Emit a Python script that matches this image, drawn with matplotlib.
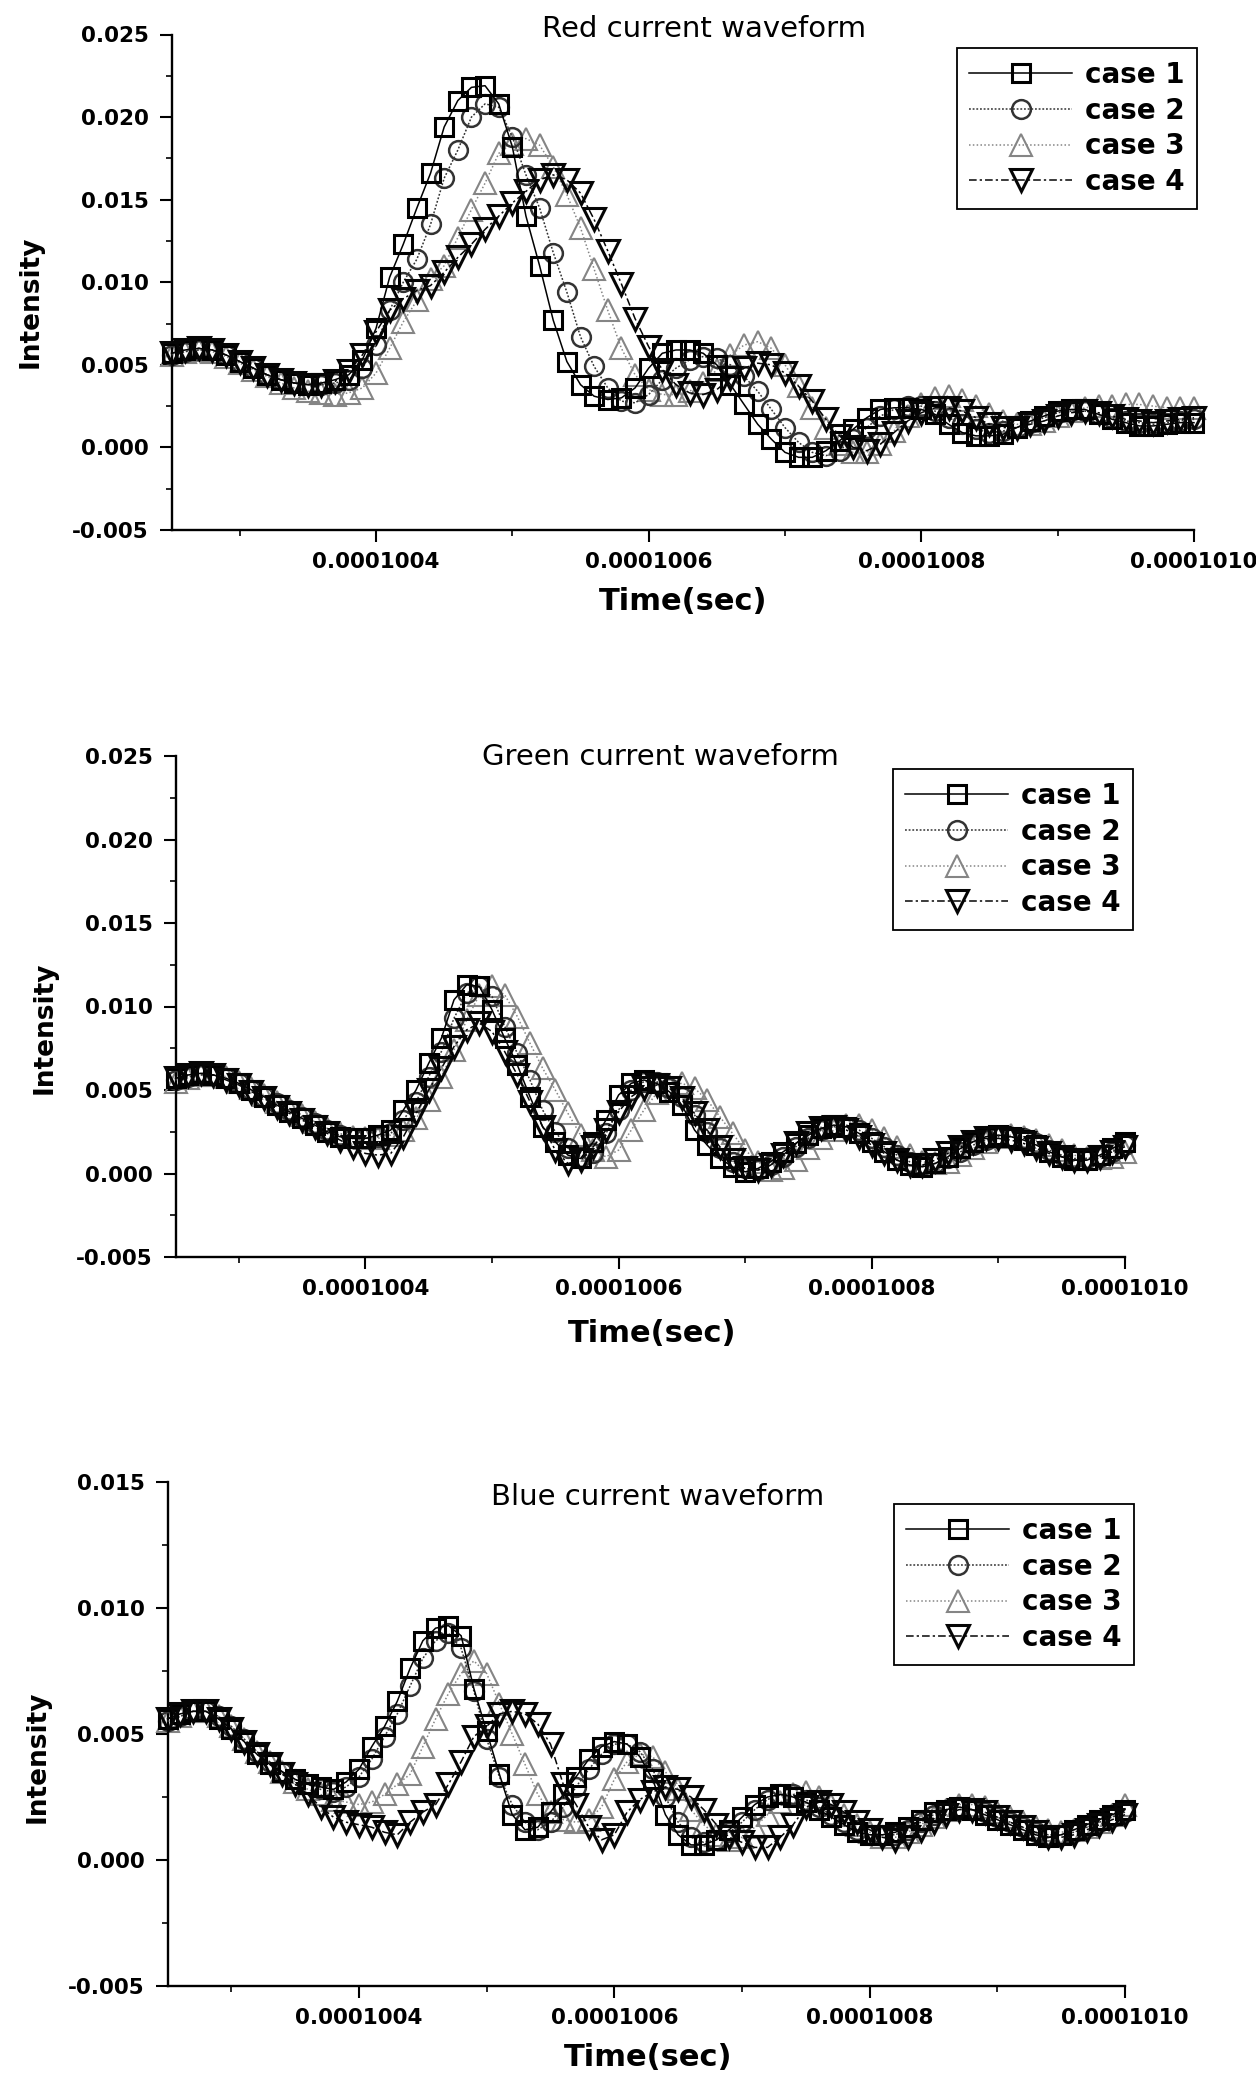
import numpy as np
import matplotlib
matplotlib.use("Agg")
import matplotlib.pyplot as plt
from matplotlib.ticker import MultipleLocator, FormatStrFormatter

plt.rcParams['font.family'] = ['DejaVu Sans']
plt.rcParams['axes.unicode_minus'] = False

# ---------------- data ----------------
# time grid: 100.25 us .. 101.00 us, sampled every 0.01 us
TIME_US = np.round(np.arange(100.25, 101.0001, 0.01), 2)
INTENSITY_SCALE = 1e-3   # values below are in units of 1e-3

CASES = ["case 1", "case 2", "case 3", "case 4"]

RED = {
    "case 1": [5.7, 5.9, 6.0, 5.9, 5.6, 5.2, 4.8, 4.4, 4.1, 3.9,
               3.8, 3.9, 4.1, 4.4, 5.3, 7.2, 10.3, 12.3, 14.5, 16.6,
               19.4, 21.0, 21.8, 21.9, 20.8, 18.2, 14.0, 11.0, 7.7, 5.2,
               3.8, 3.1, 2.9, 3.0, 3.6, 4.8, 5.7, 5.9, 5.9, 5.7,
               5.0, 3.8, 2.6, 1.4, 0.5, -0.3, -0.6, -0.6, -0.2, 0.4,
               1.1, 1.8, 2.3, 2.4, 2.4, 2.3, 2.0, 1.4, 0.9, 0.7,
               0.7, 0.8, 1.2, 1.6, 1.9, 2.2, 2.3, 2.3, 2.0, 1.7,
               1.5, 1.3, 1.3, 1.4, 1.5, 1.5],
    "case 2": [5.6, 5.8, 5.9, 5.9, 5.6, 5.2, 4.8, 4.4, 4.1, 3.9,
               3.8, 3.8, 3.9, 4.1, 4.8, 6.2, 8.3, 10.0, 11.4, 13.5,
               16.3, 18.0, 20.0, 20.8, 20.6, 18.8, 16.5, 14.5, 11.8, 9.4,
               6.7, 4.9, 3.6, 2.8, 2.7, 3.2, 4.1, 4.8, 5.3, 5.5,
               5.4, 5.0, 4.3, 3.4, 2.3, 1.2, 0.3, -0.3, -0.5, -0.2,
               0.5, 1.2, 1.9, 2.3, 2.5, 2.5, 2.2, 1.8, 1.4, 1.1,
               0.9, 1.0, 1.2, 1.5, 1.8, 2.1, 2.2, 2.2, 2.0, 1.8,
               1.6, 1.5, 1.4, 1.5, 1.6, 1.7],
    "case 3": [5.6, 5.8, 5.9, 5.8, 5.5, 5.1, 4.7, 4.3, 3.9, 3.6,
               3.4, 3.3, 3.2, 3.3, 3.6, 4.5, 6.0, 7.6, 8.9, 10.2,
               11.0, 12.7, 14.4, 16.0, 17.8, 18.4, 18.7, 18.3, 17.0, 15.3,
               13.3, 10.8, 8.3, 6.0, 4.4, 3.5, 3.2, 3.2, 3.4, 3.9,
               4.7, 5.6, 6.2, 6.4, 6.0, 5.0, 3.7, 2.4, 1.2, 0.2,
               -0.3, -0.3, 0.2, 1.0, 1.9, 2.6, 3.0, 3.1, 2.9, 2.5,
               2.0, 1.6, 1.4, 1.4, 1.6, 1.9, 2.2, 2.4, 2.5, 2.5,
               2.6, 2.6, 2.5, 2.4, 2.4, 2.4],
    "case 4": [5.7, 5.9, 6.0, 5.9, 5.6, 5.2, 4.8, 4.4, 4.1, 3.9,
               3.8, 3.8, 4.0, 4.6, 5.6, 7.0, 8.3, 9.0, 9.5, 9.8,
               10.6, 11.5, 12.3, 13.2, 14.0, 14.8, 15.5, 16.2, 16.5, 16.2,
               15.4, 13.8, 11.9, 9.9, 7.8, 6.1, 4.7, 3.8, 3.3, 3.2,
               3.5, 4.2, 4.8, 5.1, 5.0, 4.5, 3.7, 2.8, 1.7, 0.7,
               0.0, -0.2, 0.2, 0.9, 1.6, 2.1, 2.4, 2.4, 2.2, 1.8,
               1.4, 1.2, 1.2, 1.4, 1.6, 1.9, 2.1, 2.2, 2.1, 1.9,
               1.7, 1.6, 1.5, 1.6, 1.7, 1.8],
}

GREEN = {
    "case 1": [5.7, 5.9, 6.0, 5.9, 5.7, 5.4, 5.0, 4.6, 4.1, 3.7,
               3.3, 2.9, 2.5, 2.2, 2.1, 2.1, 2.3, 2.6, 3.8, 5.0,
               6.6, 8.1, 10.4, 11.3, 11.2, 9.8, 8.1, 6.5, 4.6, 2.8,
               1.9, 1.1, 0.9, 1.9, 3.2, 4.7, 5.4, 5.6, 5.4, 4.9,
               4.1, 2.6, 1.7, 0.9, 0.4, 0.1, 0.3, 0.7, 1.3, 1.8,
               2.3, 2.7, 2.9, 2.8, 2.4, 1.9, 1.3, 0.8, 0.5, 0.4,
               0.6, 1.0, 1.5, 1.9, 2.2, 2.3, 2.2, 2.0, 1.7, 1.3,
               1.0, 0.8, 0.8, 1.1, 1.5, 1.9],
    "case 2": [5.6, 5.8, 5.9, 5.9, 5.7, 5.4, 5.0, 4.6, 4.2, 3.8,
               3.4, 3.0, 2.6, 2.3, 2.1, 2.1, 2.2, 2.4, 3.2, 4.3,
               5.8, 7.3, 9.3, 10.8, 11.2, 10.6, 8.8, 7.2, 5.6, 3.8,
               2.5, 1.5, 1.0, 1.2, 2.4, 3.8, 5.0, 5.5, 5.5, 5.1,
               4.6, 3.5, 2.5, 1.5, 0.7, 0.3, 0.2, 0.5, 1.0, 1.6,
               2.1, 2.6, 2.8, 2.8, 2.6, 2.1, 1.6, 1.1, 0.7, 0.5,
               0.6, 0.9, 1.3, 1.7, 2.0, 2.2, 2.2, 2.1, 1.8, 1.4,
               1.1, 0.9, 0.9, 1.0, 1.3, 1.7],
    "case 3": [5.5, 5.7, 5.9, 5.9, 5.8, 5.5, 5.1, 4.7, 4.3, 3.9,
               3.5, 3.1, 2.7, 2.4, 2.2, 2.1, 2.1, 2.3, 2.6, 3.3,
               4.4, 5.8, 7.4, 9.2, 10.7, 11.2, 10.7, 9.4, 7.8, 6.3,
               5.0, 3.6, 2.3, 1.4, 1.0, 1.4, 2.6, 3.8, 4.8, 5.3,
               5.4, 5.1, 4.4, 3.4, 2.4, 1.4, 0.7, 0.2, 0.3, 0.8,
               1.5, 2.1, 2.6, 2.9, 2.9, 2.6, 2.1, 1.6, 1.1, 0.7,
               0.6, 0.7, 1.1, 1.5, 1.9, 2.2, 2.3, 2.2, 2.0, 1.7,
               1.4, 1.1, 0.9, 0.9, 1.0, 1.3],
    "case 4": [5.7, 5.9, 6.0, 5.9, 5.6, 5.3, 4.9, 4.5, 4.0, 3.6,
               3.2, 2.8, 2.4, 2.0, 1.6, 1.2, 1.1, 1.2, 2.2, 3.6,
               5.0, 6.3, 7.6, 8.6, 9.0, 8.5, 7.3, 5.9, 4.3, 2.8,
               1.4, 0.6, 0.8, 1.6, 2.6, 3.7, 4.6, 5.1, 5.3, 5.1,
               4.5, 3.6, 2.6, 1.6, 0.8, 0.3, 0.2, 0.5, 1.1, 1.8,
               2.4, 2.7, 2.8, 2.6, 2.2, 1.7, 1.2, 0.8, 0.5, 0.5,
               0.8, 1.2, 1.6, 1.9, 2.1, 2.1, 2.0, 1.8, 1.5, 1.2,
               1.0, 0.8, 0.8, 1.0, 1.3, 1.6],
}

BLUE = {
    "case 1": [5.6, 5.8, 5.9, 5.9, 5.6, 5.2, 4.7, 4.2, 3.8, 3.5,
               3.2, 3.0, 2.9, 2.8, 3.1, 3.6, 4.5, 5.3, 6.3, 7.6,
               8.7, 9.2, 9.3, 8.9, 6.8, 5.1, 3.4, 1.8, 1.2, 1.3,
               1.9, 2.6, 3.3, 4.0, 4.5, 4.7, 4.6, 4.1, 3.2, 1.8,
               1.0, 0.6, 0.6, 0.8, 1.2, 1.7, 2.2, 2.5, 2.6, 2.5,
               2.3, 2.0, 1.7, 1.4, 1.1, 1.0, 1.0, 1.1, 1.3, 1.6,
               1.9, 2.0, 2.1, 2.0, 1.8, 1.6, 1.4, 1.2, 1.0, 0.9,
               1.0, 1.2, 1.4, 1.6, 1.8, 2.0],
    "case 2": [5.5, 5.7, 5.9, 5.9, 5.7, 5.3, 4.8, 4.3, 3.9, 3.5,
               3.2, 3.0, 2.8, 2.7, 2.9, 3.3, 4.0, 4.9, 5.8, 6.9,
               8.0, 8.7, 9.0, 8.4, 6.7, 4.8, 3.3, 2.2, 1.5, 1.2,
               1.5, 2.1, 2.9, 3.6, 4.2, 4.6, 4.6, 4.3, 3.6, 2.5,
               1.5, 0.9, 0.7, 0.8, 1.1, 1.5, 2.0, 2.4, 2.6, 2.6,
               2.4, 2.1, 1.8, 1.5, 1.2, 1.0, 1.0, 1.0, 1.2, 1.5,
               1.8, 2.0, 2.1, 2.0, 1.9, 1.7, 1.5, 1.3, 1.1, 1.0,
               1.0, 1.1, 1.3, 1.5, 1.7, 1.9],
    "case 3": [5.5, 5.7, 5.9, 5.9, 5.7, 5.3, 4.8, 4.3, 3.9, 3.5,
               3.1, 2.8, 2.6, 2.4, 2.3, 2.2, 2.3, 2.6, 3.0, 3.4,
               4.5, 5.6, 6.6, 7.4, 7.9, 7.4, 6.2, 5.0, 3.8, 2.6,
               1.9, 1.6, 1.5, 1.6, 2.1, 3.2, 3.9, 4.2, 4.1, 3.5,
               2.8, 2.0, 1.4, 1.0, 0.8, 0.9, 1.3, 1.8, 2.3, 2.6,
               2.7, 2.5, 2.2, 1.8, 1.4, 1.1, 0.9, 0.9, 1.1, 1.4,
               1.7, 2.0, 2.2, 2.2, 2.1, 1.9, 1.7, 1.5, 1.3, 1.2,
               1.1, 1.2, 1.3, 1.5, 1.8, 2.2],
    "case 4": [5.6, 5.8, 5.9, 5.9, 5.6, 5.2, 4.7, 4.2, 3.8, 3.4,
               3.0, 2.6, 2.1, 1.7, 1.5, 1.4, 1.3, 1.1, 1.0, 1.5,
               1.9, 2.2, 3.0, 3.9, 4.9, 5.3, 5.8, 5.9, 5.8, 5.4,
               4.6, 3.0, 2.2, 1.3, 0.8, 1.0, 1.9, 2.4, 2.7, 2.9,
               2.8, 2.5, 2.0, 1.4, 0.9, 0.7, 0.5, 0.5, 0.9, 1.4,
               2.1, 2.3, 2.2, 1.9, 1.5, 1.2, 0.9, 0.8, 0.9, 1.2,
               1.5, 1.8, 2.0, 2.0, 1.9, 1.7, 1.5, 1.3, 1.1, 0.9,
               0.9, 1.0, 1.2, 1.4, 1.6, 1.8],
}

TITLES = ["Red current waveform", "Green current waveform", "Blue current waveform"]
XTICKS = [1.0040e-4, 1.0060e-4, 1.0080e-4, 1.0100e-4]
XTICK_LABELS = ["0.0001004", "0.0001006", "0.0001008", "0.0001010"]
XMINOR = [1.0030e-4, 1.0050e-4, 1.0070e-4, 1.0090e-4]
XLIM = (1.0025e-4, 1.0100e-4)
YLIMS = [(-0.005, 0.025), (-0.005, 0.025), (-0.005, 0.015)]

# ---------------- styles ----------------
STYLES = {
    "case 1": dict(ls='-', color='#000000', marker='s', ms=13, mew=2.2, lw=1.1, z=4),
    "case 2": dict(ls=(0, (1.2, 1.2)), color='#333333', marker='o', ms=13.5, mew=1.8, lw=1.1, z=3),
    "case 3": dict(ls=(0, (1, 1.5)), color='#858585', marker='^', ms=15.5, mew=1.5, lw=1.1, z=2),
    "case 4": dict(ls=(0, (5, 2, 1.5, 2)), color='#050505', marker='v', ms=15.5, mew=2.2, lw=1.1, z=5),
}

W, H = 1256, 2077
fig = plt.figure(figsize=(W / 100, H / 100), dpi=100)

# panel geometry in pixels: left, right, top, bottom
PANELS = [
    dict(l=171.5, r=1194, t=34.5, b=530, title=(704, 29), ylab=(31, 302), xlab=(683, 602), leg=(1197, 48)),
    dict(l=175.5, r=1125, t=756, b=1257, title=(660, 757), ylab=(45, 1028), xlab=(652, 1334), leg=(1133, 769)),
    dict(l=167.5, r=1125, t=1482, b=1986, title=(658, 1497), ylab=(38, 1757), xlab=(648, 2057), leg=(1134, 1504)),
]

t_sec = TIME_US * 1e-6
datasets = [RED, GREEN, BLUE]

for i, (p, data) in enumerate(zip(PANELS, datasets)):
    ax = fig.add_axes([p['l'] / W, 1 - p['b'] / H, (p['r'] - p['l']) / W, (p['b'] - p['t']) / H])
    for c in CASES:
        s = STYLES[c]
        ax.plot(t_sec, np.array(data[c]) * INTENSITY_SCALE, linestyle=s['ls'], color=s['color'],
                lw=s['lw'], marker=s['marker'], ms=s['ms'], mfc='none', mec=s['color'],
                mew=s['mew'], label=c, zorder=s['z'], clip_on=False)
    ax.set_xlim(*XLIM)
    ax.set_ylim(*YLIMS[i])
    ax.set_xticks(XTICKS)
    ax.set_xticklabels(XTICK_LABELS)
    ax.set_xticks(XMINOR, minor=True)
    ax.yaxis.set_major_locator(MultipleLocator(0.005))
    ax.yaxis.set_minor_locator(MultipleLocator(0.0025))
    ax.yaxis.set_major_formatter(FormatStrFormatter('%.3f'))
    for sp in ['top', 'right']:
        ax.spines[sp].set_visible(False)
    for sp in ['left', 'bottom']:
        ax.spines[sp].set_linewidth(1.7)
    ax.tick_params(which='major', direction='out', length=8.5, width=1.5, labelsize=15.5)
    ax.tick_params(which='minor', direction='out', length=4, width=1.2)
    ax.tick_params(axis='y', which='major', pad=8)
    ax.tick_params(axis='x', which='major', pad=7)
    for lab in ax.get_xticklabels() + ax.get_yticklabels():
        lab.set_fontweight('bold')

    leg = ax.legend(loc='upper right', bbox_to_anchor=(p['leg'][0] / W, 1 - p['leg'][1] / H),
                    bbox_transform=fig.transFigure, borderaxespad=0,
                    prop=dict(size=20, weight='bold'),
                    numpoints=1, handlelength=3.7, handletextpad=0.45, labelspacing=0.28,
                    borderpad=0.46, fancybox=False, framealpha=1, edgecolor='black')
    leg.get_frame().set_linewidth(1.3)

    fig.text(p['title'][0] / W, 1 - p['title'][1] / H, TITLES[i], ha='center', va='center', fontsize=21)
    fig.text(p['ylab'][0] / W, 1 - p['ylab'][1] / H, "Intensity", rotation=90, ha='center', va='center',
             fontsize=19, fontweight='bold')
    fig.text(p['xlab'][0] / W, 1 - p['xlab'][1] / H, "Time(sec)", ha='center', va='center',
             fontsize=22, fontweight='bold')

fig.savefig("out.png", dpi=100)
